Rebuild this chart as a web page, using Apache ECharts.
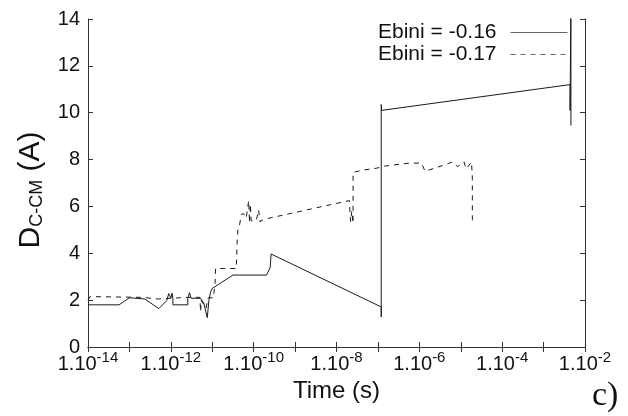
<!DOCTYPE html>
<html>
<head>
<meta charset="utf-8">
<script src="https://cdn.jsdelivr.net/npm/echarts@6/dist/echarts.min.js"></script>
<style>
  html, body { margin: 0; padding: 0; background: #fff; }
  #chart { width: 628px; height: 416px; }
</style>
</head>
<body>
<div id="chart"></div>
<script>
// Time is given as log10(seconds); distance D_C-CM in Angstrom.
const seriesNames = ['Ebini = -0.16', 'Ebini = -0.17'];

const solidLogTime = [
  -14.00, -13.25, -13.00, -12.63, -12.29, -12.10, -12.05, -12.00, -11.97, -11.95,
  -11.95, -11.59, -11.59, -11.55, -11.51, -11.28, -11.20, -11.12, -11.08, -11.04,
  -11.00, -10.50, -9.69, -9.60, -9.58, -6.92, -6.92, -6.92, -6.91, -2.36,
  -2.36, -2.34, -2.34
];
const solidDist = [
  1.80, 1.80, 2.10, 2.05, 1.64, 1.98, 2.28, 2.08, 2.30, 2.05,
  1.80, 1.80, 2.08, 2.32, 2.08, 2.08, 1.85, 1.25, 2.00, 2.35,
  2.50, 3.07, 3.07, 3.40, 3.97, 1.71, 1.28, 10.35, 10.10, 11.20,
  10.10, 15.00, 9.45
];

const dashedLogTime = [
  -14.00, -13.95, -12.70, -12.30, -11.60, -11.30, -11.28, -11.27, -11.15, -11.10,
  -10.97, -10.95, -10.93, -10.92, -10.42, -10.40, -10.38, -10.35, -10.30, -10.25,
  -10.18, -10.12, -10.10, -10.08, -10.06, -10.00, -9.93, -9.88, -9.85, -9.75,
  -7.69, -7.66, -7.63, -7.60, -7.60, -7.37, -7.04, -6.84, -6.24, -5.95,
  -5.86, -5.64, -5.35, -5.20, -5.08, -4.92, -4.87, -4.74, -4.72, -4.72
];
const dashedDist = [
  2.00, 2.15, 2.12, 2.05, 2.12, 2.12, 1.50, 2.00, 1.65, 2.10,
  2.10, 2.45, 2.75, 3.35, 3.35, 4.45, 5.00, 5.10, 5.65, 5.70,
  5.50, 6.25, 5.30, 6.10, 5.40, 5.35, 5.45, 5.85, 5.35, 5.45,
  6.25, 5.35, 5.80, 5.28, 7.45, 7.55, 7.63, 7.72, 7.85, 7.85,
  7.50, 7.63, 7.80, 7.90, 7.70, 7.90, 7.60, 7.90, 7.20, 5.20
];

const yTicks = { min: 0, max: 14, step: 2 };
const xTicks = { min: -14, max: -2, step: 1 };

const FONT = 'Liberation Sans';
const AXIS_COLOR = '#333';
const LINE_COLOR = '#1a1a1a';
const TEXT_COLOR = '#111';

function pairs(xs, ys) {
  return xs.map((x, i) => [x, ys[i]]);
}

const chart = echarts.init(document.getElementById('chart'), null, { renderer: 'canvas' });

const tickStyle = { show: true, inside: true, length: 5, lineStyle: { color: AXIS_COLOR, width: 1 } };
const lineStyleAxis = { show: true, lineStyle: { color: AXIS_COLOR, width: 1 } };

chart.setOption({
  animation: false,
  backgroundColor: '#fff',
  grid: { left: 88, right: 43, top: 19, bottom: 69, containLabel: false },
  legend: {
    orient: 'vertical',
    right: 60,
    top: 22,
    padding: 0,
    align: 'right',
    itemWidth: 57,
    itemHeight: 14,
    itemGap: 1,
    itemStyle: { opacity: 0 },
    lineStyle: { color: '#666', width: 1 },
    textStyle: { fontFamily: FONT, fontSize: 21, color: TEXT_COLOR, lineHeight: 21, padding: [0, 9, 0, 0] },
    data: seriesNames
  },
  xAxis: [
    {
      type: 'value',
      min: xTicks.min,
      max: xTicks.max,
      interval: xTicks.step,
      position: 'bottom',
      axisLine: lineStyleAxis,
      axisTick: tickStyle,
      splitLine: { show: false },
      axisLabel: {
        margin: 3,
        color: TEXT_COLOR,
        fontFamily: FONT,
        fontSize: 20,
        formatter: function (v) {
          const e = Math.round(v);
          if (e % 2 !== 0) return '';
          return '{base|1.10}{exp|' + e + '}';
        },
        rich: {
          base: { fontFamily: FONT, fontSize: 20, lineHeight: 24, verticalAlign: 'bottom', color: TEXT_COLOR },
          exp: { fontFamily: FONT, fontSize: 15, lineHeight: 15, verticalAlign: 'top', color: TEXT_COLOR }
        }
      },
      name: 'Time (s)',
      nameLocation: 'middle',
      nameGap: 29,
      nameTextStyle: { fontFamily: FONT, fontSize: 24, color: TEXT_COLOR }
    },
    {
      type: 'value',
      min: xTicks.min,
      max: xTicks.max,
      interval: xTicks.step,
      position: 'top',
      axisLine: lineStyleAxis,
      axisTick: tickStyle,
      axisLabel: { show: false },
      splitLine: { show: false }
    }
  ],
  yAxis: [
    {
      type: 'value',
      min: yTicks.min,
      max: yTicks.max,
      interval: yTicks.step,
      position: 'left',
      axisLine: lineStyleAxis,
      axisTick: tickStyle,
      splitLine: { show: false },
      axisLabel: { margin: 8, fontFamily: FONT, fontSize: 20, color: TEXT_COLOR },
      name: '{d|D}{s|C-CM}{d| (A)}',
      nameLocation: 'middle',
      nameRotate: 90,
      nameGap: 42,
      nameTextStyle: {
        color: TEXT_COLOR,
        padding: [0, 14, 0, 0],
        rich: {
          d: { fontFamily: FONT, fontSize: 30, lineHeight: 32, verticalAlign: 'bottom', color: TEXT_COLOR },
          s: { fontFamily: FONT, fontSize: 18, lineHeight: 18, verticalAlign: 'bottom', color: TEXT_COLOR }
        }
      }
    },
    {
      type: 'value',
      min: yTicks.min,
      max: yTicks.max,
      interval: yTicks.step,
      position: 'right',
      axisLine: lineStyleAxis,
      axisTick: tickStyle,
      axisLabel: { show: false },
      splitLine: { show: false }
    }
  ],
  series: [
    {
      name: seriesNames[0],
      type: 'line',
      xAxisIndex: 0,
      yAxisIndex: 0,
      showSymbol: false,
      symbol: 'none',
      clip: true,
      lineStyle: { color: LINE_COLOR, width: 1, type: 'solid' },
      itemStyle: { color: LINE_COLOR },
      data: pairs(solidLogTime, solidDist)
    },
    {
      name: seriesNames[1],
      type: 'line',
      xAxisIndex: 0,
      yAxisIndex: 0,
      showSymbol: false,
      symbol: 'none',
      clip: true,
      lineStyle: { color: LINE_COLOR, width: 1, type: [5, 5] },
      itemStyle: { color: LINE_COLOR },
      data: pairs(dashedLogTime, dashedDist)
    }
  ],
  graphic: [
    {
      type: 'text',
      left: 592,
      top: 379,
      style: { text: 'c)', font: '34px "Liberation Serif"', fill: TEXT_COLOR }
    }
  ]
});
</script>
</body>
</html>
